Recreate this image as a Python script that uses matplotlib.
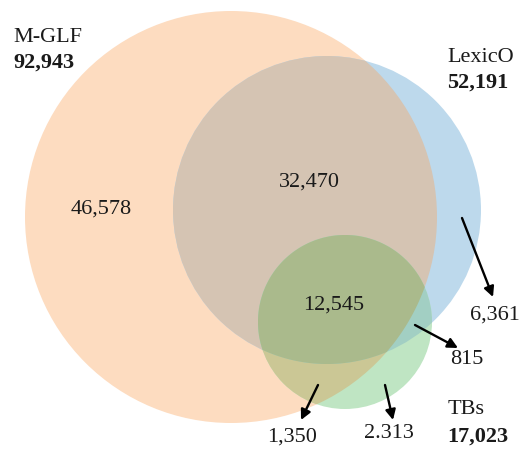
import numpy as np
import matplotlib
matplotlib.use("Agg")
import matplotlib.pyplot as plt
from matplotlib.patches import Circle, Polygon

# ---- data ----
set_names = ["M-GLF", "LexicO", "TBs"]
set_totals = ["92,943", "52,191", "17,023"]
region_names = ["M-GLF only", "M-GLF & LexicO", "all three", "LexicO only",
                "LexicO & TBs", "M-GLF & TBs", "TBs only"]
region_labels = ["46,578", "32,470", "12,545", "6,361", "815", "1,350", "2.313"]

# ---- layout (pixel coordinates, y downwards) ----
W, H = 531, 451
circles = {"M-GLF": ((231, 217), 206), "LexicO": ((327, 210), 154), "TBs": ((345, 322), 87)}
col = {
    "O": "#FDDCC0", "B": "#BDD9EC", "G": "#BFE5C3",
    "OB": "#D5C4B3", "OG": "#CBC795", "BG": "#A2CFC3", "OBG": "#AABA8C",
}

fig = plt.figure(figsize=(W / 100, H / 100), dpi=100)
ax = fig.add_axes([0, 0, 1, 1])
ax.set_xlim(0, W)
ax.set_ylim(H, 0)
ax.set_aspect("equal")
ax.axis("off")

def circ_poly(c, r, n=720):
    t = np.linspace(0, 2 * np.pi, n, endpoint=False)
    return np.column_stack([c[0] + r * np.cos(t), c[1] + r * np.sin(t)])

def clip_poly(subject, clipper):
    # Sutherland-Hodgman with convex clipper
    def inside(p, a, b):
        return (b[0] - a[0]) * (p[1] - a[1]) - (b[1] - a[1]) * (p[0] - a[0]) >= 0
    def inter(p1, p2, a, b):
        x1, y1 = p1; x2, y2 = p2; x3, y3 = a; x4, y4 = b
        den = (x1 - x2) * (y3 - y4) - (y1 - y2) * (x3 - x4)
        t = ((x1 - x3) * (y3 - y4) - (y1 - y3) * (x3 - x4)) / den
        return (x1 + t * (x2 - x1), y1 + t * (y2 - y1))
    out = list(map(tuple, subject))
    for i in range(len(clipper)):
        a, b = clipper[i], clipper[(i + 1) % len(clipper)]
        inp, out = out, []
        if not inp:
            break
        s = inp[-1]
        for e in inp:
            if inside(e, a, b):
                if not inside(s, a, b):
                    out.append(inter(s, e, a, b))
                out.append(e)
            elif inside(s, a, b):
                out.append(inter(s, e, a, b))
            s = e
    return np.array(out)

(cO, rO), (cB, rB), (cG, rG) = circles["M-GLF"], circles["LexicO"], circles["TBs"]
pO = Circle(cO, rO, fc=col["O"], ec="none", zorder=1)
pB = Circle(cB, rB, fc=col["B"], ec="none", zorder=1)
ax.add_patch(pO)
ax.add_patch(pB)
pOB = Circle(cB, rB, fc=col["OB"], ec="none", zorder=2)
ax.add_patch(pOB)
pOB.set_clip_path(pO)
pG = Circle(cG, rG, fc=col["G"], ec="none", zorder=3)
ax.add_patch(pG)
pOG = Circle(cG, rG, fc=col["OG"], ec="none", zorder=4)
ax.add_patch(pOG)
pOG.set_clip_path(pO)
pBG = Circle(cG, rG, fc=col["BG"], ec="none", zorder=5)
ax.add_patch(pBG)
pBG.set_clip_path(pB)
tri = clip_poly(clip_poly(circ_poly(cG, rG), circ_poly(cB, rB)), circ_poly(cO, rO))
ax.add_patch(Polygon(tri, closed=True, fc=col["OBG"], ec="none", zorder=6))

font = "Liberation Serif"
fs = 16
tc = "#1a1a1a"

# set names and totals
name_pos = [(13, 37), (447, 57), (448, 410)]
total_pos = [(13, 63), (447, 83), (447, 437)]
for nm, tot, (nx, ny), (tx, ty) in zip(set_names, set_totals, name_pos, total_pos):
    ax.text(nx, ny, nm, family=font, fontsize=fs, color=tc, ha="left", va="center", zorder=10)
    ax.text(tx, ty, tot, family=font, fontsize=fs, fontweight="bold", color=tc,
            ha="left", va="center", zorder=10)

# region labels
label_pos = [(101, 209), (309, 182), (334, 305), (495, 315), (467, 360), (292, 437), (389, 433)]
for lab, (x, y) in zip(region_labels, label_pos):
    ax.text(x, y, lab, family=font, fontsize=fs, color=tc, ha="center", va="center", zorder=10)

# arrows
arrows = [((462, 218), (493, 297)), ((415, 325), (458, 348)),
          ((318, 385), (301, 420)), ((385, 385), (393, 420))]
for (x0, y0), (x1, y1) in arrows:
    ax.annotate("", xy=(x1, y1), xytext=(x0, y0),
                arrowprops=dict(arrowstyle="-|>", color="black", lw=1.7,
                                mutation_scale=15, shrinkA=0, shrinkB=0), zorder=11)

fig.savefig("out.png", dpi=100)
